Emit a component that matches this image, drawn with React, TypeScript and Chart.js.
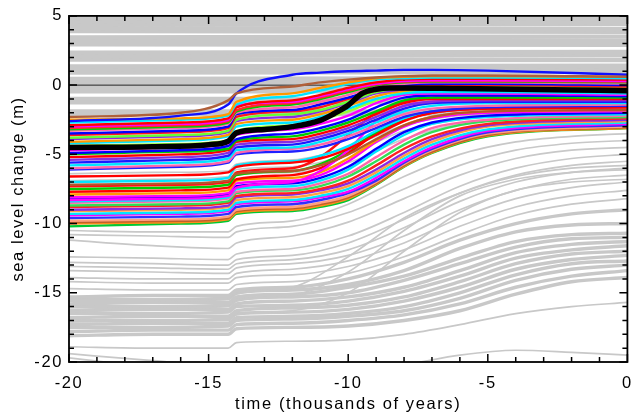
import React, { useEffect, useRef } from 'react';
import { Chart, registerables } from 'chart.js';

Chart.register(...registerables);

// ---------- text & ticks ----------
const X_TITLE = 'time (thousands of years)';
const Y_TITLE = 'sea level change (m)';
const X_MAJOR_TICKS = [-20, -15, -10, -5, 0];
const Y_MAJOR_TICKS = [5, 0, -5, -10, -15, -20];

// ---------- thick black (ensemble best) run ----------
const TIME_MEAN = [-20, -17, -15, -14.3, -14.0, -13, -12, -11, -10.5, -10, -9.5, -9, -8.5, -8, -6, -4, -2, 0];
const MEAN_SEA_LEVEL = [-4.5, -4.45, -4.3, -4.05, -3.45, -3.2, -3.0, -2.55, -2.05, -1.45, -0.6, -0.3, -0.2, -0.2, -0.25, -0.3, -0.35, -0.4];

// ---------- coloured (accepted) runs ----------
const TIME_COLOURED = [-20, -16, -14.3, -14.0, -12, -11, -10, -9, -8, -7, -5, 0];
const UPPER_RUNS = [
  [-2.3, -2.0, -1.1, -0.6, -0.1, 0.2, 0.4, 0.55, 0.65, 0.7, 0.7, 0.6],
  [-2.6, -2.2, -1.4, -0.6, 0.75, 0.9, 1.0, 1.05, 1.1, 1.1, 1.05, 0.75],
  [-2.5, -2.4, -2.1, -1.2, -0.6, -0.2, 0.2, 0.5, 0.6, 0.65, 0.65, 0.6],
  [-2.7, -2.5, -2.2, -1.4, -0.8, -0.4, 0.1, 0.4, 0.5, 0.55, 0.55, 0.5],
  [-2.9, -2.7, -2.4, -1.6, -1.1, -0.7, -0.2, 0.2, 0.4, 0.45, 0.45, 0.4],
  [-3.0, -2.8, -2.5, -1.5, -1.2, -0.8, -0.3, 0.1, 0.3, 0.35, 0.35, 0.3],
  [-3.1, -2.9, -2.6, -1.8, -1.3, -0.9, -0.4, 0.05, 0.25, 0.3, 0.3, 0.25],
  [-3.2, -3.0, -2.7, -1.9, -1.4, -1.0, -0.5, 0.0, 0.2, 0.25, 0.25, 0.2],
  [-3.3, -3.1, -2.8, -2.0, -1.6, -1.2, -0.7, -0.1, 0.1, 0.2, 0.2, 0.1],
  [-3.5, -3.3, -3.0, -2.1, -1.8, -1.4, -0.9, -0.3, 0.0, 0.1, 0.1, 0.0],
  [-3.6, -3.4, -3.1, -2.3, -1.9, -1.6, -1.0, -0.4, -0.1, 0.0, 0.0, -0.1],
  [-3.8, -3.6, -3.3, -2.5, -2.1, -1.8, -1.2, -0.5, -0.2, -0.1, -0.1, -0.2],
  [-3.9, -3.7, -3.4, -2.6, -2.3, -1.9, -1.3, -0.6, -0.3, -0.2, -0.2, -0.3],
  [-4.1, -3.9, -3.6, -2.8, -2.5, -2.1, -1.5, -0.8, -0.4, -0.3, -0.3, -0.4],
  [-4.2, -4.0, -3.7, -3.0, -2.7, -2.3, -1.7, -1.0, -0.6, -0.5, -0.5, -0.6],
  [-4.4, -4.25, -4.0, -3.3, -2.9, -2.5, -1.9, -1.1, -0.5, -0.4, -0.4, -0.5],
  [-4.7, -4.5, -4.2, -3.6, -3.2, -2.8, -2.2, -1.3, -0.7, -0.6, -0.6, -0.7],
  [-4.9, -4.7, -4.4, -3.9, -3.5, -3.1, -2.5, -1.6, -0.9, -0.75, -0.75, -0.8],
  [-5.0, -4.8, -4.6, -4.0, -3.7, -3.3, -2.7, -1.9, -1.1, -0.9, -0.9, -0.9],
  [-5.2, -5.0, -4.7, -4.1, -3.9, -3.5, -2.9, -2.1, -1.3, -1.0, -1.0, -1.0],
  [-5.4, -5.2, -4.9, -4.3, -4.1, -3.7, -3.1, -2.3, -1.5, -1.2, -1.1, -1.1],
  [-5.6, -5.4, -5.1, -4.5, -4.3, -3.9, -3.3, -2.5, -1.7, -1.3, -1.2, -1.2],
  [-5.8, -5.6, -5.3, -4.7, -4.5, -4.1, -3.5, -2.7, -1.9, -1.5, -1.3, -1.3],
  [-6.0, -5.8, -5.5, -4.9, -4.6, -4.3, -3.7, -2.9, -2.1, -1.7, -1.5, -1.4],
  [-6.1, -5.9, -5.6, -5.0, -4.8, -4.5, -3.9, -3.1, -2.3, -1.9, -1.6, -1.5],
];
const MIDDLE_RUNS = [
  [-6.6, -6.5, -6.3, -5.9, -5.6, -5.3, -4.6, -3.6, -2.6, -2.0, -1.7, -1.6],
  [-7.0, -6.9, -6.7, -5.8, -5.5, -5.1, -4.4, -3.3, -2.4, -1.9, -1.6, -1.5],
  [-7.2, -7.1, -6.9, -6.4, -6.2, -5.8, -5.0, -3.9, -2.9, -2.3, -1.9, -1.8],
  [-7.3, -7.2, -7.0, -6.3, -6.0, -5.2, -3.6, -2.0, -1.2, -0.9, -0.8, -0.8],
  [-8.3, -8.2, -8.0, -7.4, -7.0, -6.2, -4.7, -2.6, -1.5, -1.2, -1.1, -1.1],
];
const LOWER_RUNS = [
  [-7.5, -7.4, -7.2, -6.5, -6.2, -5.7, -4.7, -3.4, -2.4, -1.9, -1.6, -1.5],
  [-7.7, -7.6, -7.4, -6.8, -6.5, -6.0, -4.9, -3.5, -2.5, -2.0, -1.7, -1.6],
  [-7.9, -7.8, -7.6, -6.9, -6.7, -6.3, -5.3, -4.0, -2.9, -2.3, -1.9, -1.8],
  [-8.1, -8.0, -7.8, -7.1, -6.9, -6.5, -5.5, -4.1, -3.0, -2.4, -2.0, -1.9],
  [-8.2, -8.1, -7.9, -7.3, -7.1, -6.7, -5.9, -4.6, -3.4, -2.7, -2.2, -2.0],
  [-8.4, -8.3, -8.1, -7.5, -7.3, -6.9, -6.1, -4.8, -3.6, -2.8, -2.3, -2.1],
  [-8.5, -8.4, -8.2, -7.7, -7.5, -7.1, -6.4, -5.2, -4.0, -3.1, -2.5, -2.2],
  [-8.7, -8.6, -8.4, -7.8, -7.6, -7.3, -6.6, -5.5, -4.3, -3.4, -2.6, -2.3],
  [-8.8, -8.7, -8.5, -8.0, -7.8, -7.5, -6.9, -5.8, -4.6, -3.7, -2.8, -2.4],
  [-9.0, -8.9, -8.7, -8.1, -7.9, -7.6, -7.1, -6.1, -4.9, -3.9, -2.9, -2.5],
  [-9.1, -9.0, -8.8, -8.3, -8.1, -7.8, -7.3, -6.3, -5.1, -4.1, -3.0, -2.6],
  [-9.3, -9.2, -9.0, -8.5, -8.3, -8.0, -7.5, -6.5, -5.3, -4.3, -3.2, -2.7],
  [-9.4, -9.3, -9.1, -8.6, -8.4, -8.1, -7.7, -6.7, -5.5, -4.5, -3.3, -2.8],
  [-9.6, -9.5, -9.3, -8.8, -8.6, -8.3, -7.8, -6.9, -5.6, -4.6, -3.4, -2.9],
  [-9.8, -9.7, -9.5, -9.0, -8.8, -8.5, -8.0, -7.0, -5.7, -4.7, -3.5, -3.0],
  [-9.9, -9.8, -9.6, -9.1, -8.9, -8.6, -8.1, -7.1, -5.8, -4.8, -3.6, -3.05],
  [-10.0, -9.9, -9.7, -9.2, -9.0, -8.7, -8.2, -7.15, -5.85, -4.85, -3.65, -3.1],
  [-10.2, -10.0, -9.8, -9.3, -9.1, -8.8, -8.3, -7.2, -5.9, -4.9, -3.7, -3.1],
];

// ---------- grey (rejected) runs ----------
const TIME_SPAN = [-20, 0];
const GREY_TOP_START = [4.85, 4.6, 4.35, 4.1, 3.9, 3.45, 3.2, 2.95, 2.35, 2.1, 1.85, 1.35, 1.1, 0.9, 0.45, 0.2, -0.2, -0.45, -1.0, -1.25, -1.9, -2.1];
const GREY_TOP_END = [4.8, 4.55, 4.4, 4.05, 3.85, 3.5, 3.2, 2.9, 2.4, 2.15, 1.8, 1.4, 1.15, 0.95, 0.5, 0.25, -0.2, -0.45, -1.0, -1.25, -1.9, -2.1];
const PRESENT_LEVEL = [0, 0];

const TIME_GREY = [-20, -17, -14.3, -14.0, -12, -10, -8, -6, -4, -2, 0];
const GREY_GAP_RUNS = [
  [-6.4, -6.3, -6.2, -5.7, -5.4, -4.5, -2.9, -2.2, -2.0, -2.0, -1.9],
  [-6.9, -6.8, -6.6, -6.1, -5.9, -5.0, -3.3, -2.5, -2.2, -2.1, -2.1],
  [-7.3, -7.2, -7.0, -6.5, -6.3, -5.6, -3.9, -2.8, -2.4, -2.3, -2.2],
];
const GREY_LOW_RUNS = [
  [-10.5, -10.6, -10.6, -10.2, -9.8, -8.6, -6.6, -5.0, -4.1, -3.7, -3.5],
  [-10.8, -10.9, -11.0, -10.6, -10.2, -9.2, -7.5, -5.8, -4.7, -4.2, -4.0],
  [-11.2, -11.6, -11.8, -11.4, -10.9, -9.9, -8.2, -6.5, -5.3, -4.7, -4.5],
  [-12.4, -12.5, -12.6, -12.2, -11.8, -10.9, -9.2, -7.3, -6.0, -5.3, -5.0],
  [-12.8, -12.9, -13.0, -12.6, -12.3, -11.4, -9.7, -7.8, -6.5, -5.8, -5.5],
  [-13.1, -13.2, -13.3, -12.9, -12.6, -11.9, -10.3, -8.4, -7.0, -6.3, -6.0],
  [-13.4, -13.5, -13.6, -13.2, -12.9, -12.3, -10.9, -9.0, -7.6, -6.8, -6.5],
  [-13.9, -14.0, -14.0, -13.6, -13.3, -12.7, -11.4, -9.6, -8.2, -7.4, -7.0],
  [-14.2, -14.3, -14.3, -13.9, -13.7, -13.1, -11.9, -10.2, -8.8, -8.0, -7.6],
  [-14.7, -14.8, -14.8, -14.4, -14.2, -13.6, -12.4, -10.8, -9.4, -8.6, -8.2],
  [-16.2, -16.1, -16.0, -15.6, -15.2, -13.5, -10.5, -8.0, -6.8, -6.3, -6.1],
  [-17.1, -17.0, -17.0, -16.6, -16.3, -15.0, -12.0, -9.2, -7.6, -7.0, -6.8],
  [-15.6, -15.6, -15.5, -15.1, -14.6, -12.4, -9.6, -7.8, -6.6, -6.0, -5.8],
  [-18.9, -19.0, -19.0, -18.6, -18.5, -18.4, -18.0, -17.3, -16.5, -16.0, -15.7],
  [-19.4, -19.9, -20.3, -20.2, -20.4, -20.6, -20.2, -19.5, -19.15, -19.3, -19.5],
  [-19.7, -20.4, -21.0, -21.0, -21.0, -21.0, -21.0, -21.0, -21.0, -21.0, -21.0],
];
const GREY_BAND_RUNS = [
  [-15.3, -15.2, -15.2, -14.8, -14.6, -14.0, -12.8, -11.2, -10.0, -9.3, -9.0],
  [-15.5, -15.5, -15.4, -15.0, -14.8, -14.4, -13.4, -11.8, -10.6, -10.1, -10.0],
  [-15.8, -15.7, -15.7, -15.3, -15.1, -14.6, -13.8, -12.5, -11.3, -10.8, -10.7],
  [-16.0, -16.0, -15.9, -15.5, -15.3, -15.0, -14.1, -12.9, -11.7, -11.1, -11.0],
  [-16.3, -16.2, -16.2, -15.8, -15.6, -15.3, -14.6, -13.4, -12.1, -11.5, -11.3],
  [-16.5, -16.5, -16.4, -16.0, -15.9, -15.6, -14.9, -13.8, -12.5, -11.9, -11.6],
  [-16.8, -16.7, -16.7, -16.3, -16.1, -15.9, -15.3, -14.2, -12.9, -12.2, -12.0],
  [-17.0, -17.0, -16.9, -16.5, -16.4, -16.2, -15.6, -14.6, -13.3, -12.6, -12.3],
  [-17.3, -17.2, -17.2, -16.8, -16.7, -16.5, -16.0, -15.0, -13.7, -12.9, -12.7],
  [-17.5, -17.5, -17.4, -17.0, -16.9, -16.7, -16.3, -15.4, -14.1, -13.3, -13.0],
  [-17.8, -17.7, -17.7, -17.3, -17.2, -17.0, -16.6, -15.8, -14.6, -13.8, -13.4],
  [-18.1, -18.0, -18.0, -17.6, -17.5, -17.4, -17.0, -16.3, -15.1, -14.2, -13.9],
];

// ---------- styles ----------
const UPPER_COLOURS = ['#b0603a', '#1010ff', '#ff9900', '#00e5ff', '#ff0000', '#ff00ff', '#ff2a2a', '#00cc00', '#ff66aa', '#0000ff', '#ff1a1a', '#66ff33', '#8a2be2', '#ff9900', '#00e5ff', '#99ff33', '#ff00ff', '#0000ff', '#00cc00', '#ff0000', '#8a2be2', '#1a1aff', '#00e5ff', '#ff66aa', '#2020ff'];
const MIDDLE_COLOURS = ['#ff0000', '#00e5ff', '#b5562b', '#ff1010', '#ff00ff'];
const LOWER_COLOURS = ['#00cc00', '#ff0000', '#ff9900', '#ff00ff', '#0000ff', '#00e5ff', '#ff66aa', '#33dd55', '#ff2020', '#8a2be2', '#ffa040', '#00e5ff', '#ff00ff', '#3030ff', '#ff9f80', '#c0602a', '#ff8c1a', '#00c832'];
const GREY = '#c8c8c8';
const FONT = { family: '"Liberation Sans", Arial, Helvetica, sans-serif', size: 16.5 };

const pts = (times: number[], vals: number[]) => times.map((t, i) => ({ x: t, y: vals[i] }));

const frameTicks = {
  id: 'frameTicks',
  beforeDraw(chart: any) {
    try { chart.ctx.letterSpacing = '1.6px'; } catch (e) { /* ignore */ }
  },
  afterDatasetsDraw(chart: any) {
    const { ctx, chartArea, scales } = chart;
    const { left, right, top, bottom } = chartArea;
    const xs = scales.x, ys = scales.y;
    ctx.save();
    ctx.strokeStyle = '#000';
    ctx.lineWidth = 1.5;
    ctx.beginPath();
    xs.ticks.forEach((t: any) => {
      const p = xs.getPixelForValue(t.value);
      const len = X_MAJOR_TICKS.includes(t.value) ? 8 : 5;
      ctx.moveTo(p, bottom); ctx.lineTo(p, bottom - len);
      ctx.moveTo(p, top); ctx.lineTo(p, top + len);
    });
    ys.ticks.forEach((t: any) => {
      const p = ys.getPixelForValue(t.value);
      const len = Y_MAJOR_TICKS.includes(t.value) ? 8 : 5;
      ctx.moveTo(left, p); ctx.lineTo(left + len, p);
      ctx.moveTo(right, p); ctx.lineTo(right - len, p);
    });
    ctx.stroke();
    ctx.lineWidth = 1.8;
    ctx.strokeRect(left, top, right - left, bottom - top);
    ctx.restore();
  },
};

export default function App() {
  const ref = useRef<HTMLCanvasElement>(null);

  useEffect(() => {
    if (!ref.current) return;
    const datasets: any[] = [];
    const line = (data: any[], color: string, width: number, order: number) => ({
      data, borderColor: color, borderWidth: width, order, pointRadius: 0,
      cubicInterpolationMode: 'monotone', fill: false,
    });

    datasets.push(line(pts(TIME_MEAN, MEAN_SEA_LEVEL), '#000000', 5.5, 0));
    UPPER_RUNS.forEach((r, i) => datasets.push(line(pts(TIME_COLOURED, r), UPPER_COLOURS[i % UPPER_COLOURS.length], 2.4, 1)));
    MIDDLE_RUNS.forEach((r, i) => datasets.push(line(pts(TIME_COLOURED, r), MIDDLE_COLOURS[i % MIDDLE_COLOURS.length], 2.4, 1)));
    LOWER_RUNS.forEach((r, i) => datasets.push(line(pts(TIME_COLOURED, r), LOWER_COLOURS[i % LOWER_COLOURS.length], 2.4, 1)));
    datasets.push(line(pts(TIME_SPAN, PRESENT_LEVEL), '#333333', 1.2, 2));
    GREY_TOP_START.forEach((s, i) => datasets.push(line(pts(TIME_SPAN, [s, GREY_TOP_END[i]]), GREY, 4.3, 3)));
    GREY_GAP_RUNS.forEach((r) => datasets.push(line(pts(TIME_GREY, r), GREY, 1.6, 3)));
    GREY_LOW_RUNS.forEach((r) => datasets.push(line(pts(TIME_GREY, r), GREY, 1.7, 3)));
    GREY_BAND_RUNS.forEach((r) => datasets.push(line(pts(TIME_GREY, r), GREY, 3.4, 3)));

    const chart = new Chart(ref.current, {
      type: 'line',
      data: { datasets },
      plugins: [frameTicks],
      options: {
        animation: false,
        responsive: false,
        events: [],
        layout: { padding: { top: 15, right: 6, left: 0, bottom: 0 } },
        plugins: { legend: { display: false }, tooltip: { enabled: false } },
        scales: {
          x: {
            type: 'linear', min: -20, max: 0,
            grid: { display: false, drawTicks: false },
            border: { display: false },
            ticks: {
              stepSize: 1, autoSkip: false, maxRotation: 0, padding: 12, color: '#000', font: FONT,
              callback: (v: any) => (X_MAJOR_TICKS.includes(Number(v)) ? String(v) : ''),
            },
            title: { display: true, text: X_TITLE, color: '#000', font: FONT, padding: { top: 0, bottom: 5 } },
            afterFit: (s: any) => { s.height = 57; },
          },
          y: {
            type: 'linear', min: -20, max: 5,
            grid: { display: false, drawTicks: false },
            border: { display: false },
            ticks: {
              stepSize: 1, autoSkip: false, padding: 6, color: '#000', font: FONT,
              callback: (v: any) => (Y_MAJOR_TICKS.includes(Number(v)) ? String(v) : ''),
            },
            title: { display: true, text: Y_TITLE, color: '#000', font: FONT, padding: { top: 9, bottom: 0 } },
            afterFit: (s: any) => { s.width = 69; },
          },
        },
      } as any,
    });
    return () => chart.destroy();
  }, []);

  return (
    <div style={{ position: 'absolute', left: 0, top: 0, width: 644, height: 419, background: '#fff' }}>
      <canvas ref={ref} width={644} height={419} style={{ display: 'block' }} />
    </div>
  );
}
